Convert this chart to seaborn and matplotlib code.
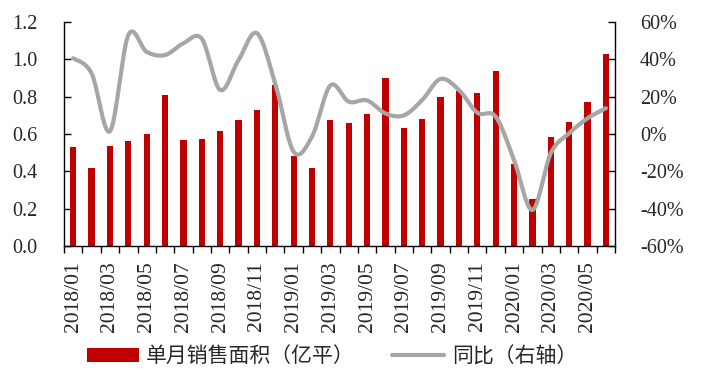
import numpy as np
import pandas as pd
import matplotlib
matplotlib.use("Agg")
import matplotlib.pyplot as plt
import seaborn as sns
from matplotlib.patches import Patch
from matplotlib.lines import Line2D

months = [f"{y}/{m:02d}" for y in (2018, 2019, 2020) for m in range(1, 13)][:30]
sales = [0.53, 0.42, 0.535, 0.56, 0.60, 0.81, 0.57, 0.575, 0.615, 0.675, 0.73, 0.86,
         0.48, 0.42, 0.675, 0.66, 0.705, 0.90, 0.63, 0.68, 0.80, 0.83, 0.82, 0.94,
         0.44, 0.25, 0.585, 0.665, 0.77, 1.03]
yoy = [40.6, 32.5, 1.5, 53.0, 44.0, 42.3, 48.6, 51.0, 23.6, 39.6, 54.0, 27.0,
       -9.5, -1.4, 26.0, 17.3, 18.0, 11.0, 10.0, 18.2, 29.5, 23.6, 11.4, 9.3,
       -13.9, -40.7, -10.3, 0.4, 8.4, 13.8]

sns.set_theme(style="white")
plt.rcParams['font.family'] = ['Liberation Serif', 'Noto Sans CJK SC', 'DejaVu Sans']
plt.rcParams['axes.unicode_minus'] = False

BAR = "#C00000"
LINE = "#A6A6A6"

fig = plt.figure(figsize=(7.06, 3.86), dpi=100)
ax = fig.add_axes([0.0907, 0.3627, 0.7805, 0.5803])

df = pd.DataFrame({"month": months, "sales": sales})
sns.barplot(data=df, x="month", y="sales", color=BAR, saturation=1, width=0.34,
            linewidth=0, ax=ax)
ax.set_xlim(-0.5, len(months) - 0.5)
ax.set_ylim(0, 1.2)
ax.set_xlabel("")
ax.set_ylabel("")

# smooth line (Catmull-Rom rendering through data points)
x = np.arange(len(yoy), dtype=float)
y = np.array(yoy, dtype=float)
px = np.concatenate([[x[0]], x, [x[-1]]])
py = np.concatenate([[y[0]], y, [y[-1]]])
xs, ys = [], []
for i in range(1, len(px) - 2):
    t = np.linspace(0, 1, 20, endpoint=False)
    p0, p1, p2, p3 = py[i - 1], py[i], py[i + 1], py[i + 2]
    q0, q1, q2, q3 = px[i - 1], px[i], px[i + 1], px[i + 2]
    for arr, (a0, a1, a2, a3) in ((xs, (q0, q1, q2, q3)), (ys, (p0, p1, p2, p3))):
        arr.extend(0.5 * ((2 * a1) + (-a0 + a2) * t + (2 * a0 - 5 * a1 + 4 * a2 - a3) * t ** 2
                          + (-a0 + 3 * a1 - 3 * a2 + a3) * t ** 3))
xs.append(x[-1]); ys.append(y[-1])

ax2 = ax.twinx()
sns.lineplot(x=xs, y=ys, color=LINE, linewidth=3.0, ax=ax2, sort=False)
ax2.set_ylim(-60, 60)
ax2.set_xlim(-0.5, len(months) - 0.5)
ax2.set_yticks(np.arange(-60, 61, 20))
ax2.set_yticklabels([f"{v}%" for v in range(-60, 61, 20)])

for a in (ax, ax2):
    a.spines["top"].set_visible(False)
    for s in a.spines.values():
        s.set_color("black")
        s.set_linewidth(1.0)
ax.spines["right"].set_visible(False)
ax2.spines["left"].set_visible(False)
ax2.spines["bottom"].set_visible(False)

ax.set_yticks(np.arange(0, 1.21, 0.2))
ax.set_yticklabels([f"{v:.1f}" for v in np.arange(0, 1.21, 0.2)])
ax.tick_params(axis="y", direction="in", length=5, width=1, color="black", pad=19,
               labelsize=14.5, left=True)
ax2.tick_params(axis="y", direction="in", length=5, width=1, color="black", pad=18,
                labelsize=14.5, right=True)

ax.set_xticks(np.arange(-0.5, len(months), 1.0))
ax.set_xticklabels([])
ax.tick_params(axis="x", which="major", direction="out", length=5, width=1, color="black", bottom=True)
ax.set_xticks(np.arange(0, len(months), 2), minor=True)
ax.set_xticklabels(months[::2], minor=True, rotation=90)
ax.tick_params(axis="x", which="minor", length=0, pad=11, labelsize=15.5)
ax.grid(False); ax2.grid(False)

handles = [Patch(facecolor=BAR, edgecolor="none"),
           Line2D([0], [0], color=LINE, linewidth=3.0)]
fig.legend(handles, ["单月销售面积（亿平）", "同比（右轴）"], loc="lower center",
           bbox_to_anchor=(0.47, 0.0), ncol=2, frameon=False,
           handlelength=2.5, handleheight=0.7, columnspacing=1.8, handletextpad=0.35,
           prop={'family': ['Noto Sans CJK SC'], 'size': 15, 'weight': 'light'})

fig.savefig("out.png", dpi=100)
